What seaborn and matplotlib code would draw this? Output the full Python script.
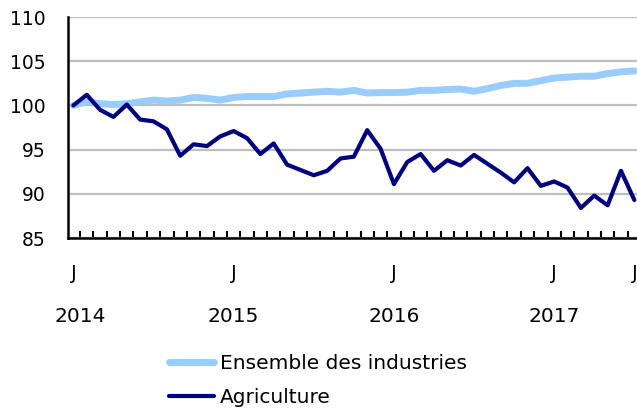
import numpy as np
import pandas as pd
import seaborn as sns
import matplotlib
matplotlib.use("Agg")
import matplotlib.pyplot as plt
from matplotlib.lines import Line2D

# Données mensuelles, janvier 2014 - juillet 2017 (base 100 = janvier 2014)
mois = pd.date_range("2014-01-01", "2017-07-01", freq="MS")
ensemble = [100.0, 100.4, 100.2, 100.1, 100.2, 100.4, 100.6, 100.5, 100.6, 100.9,
            100.8, 100.6, 100.9, 101.0, 101.0, 101.0, 101.3, 101.4, 101.5, 101.6,
            101.5, 101.7, 101.4, 101.45, 101.45, 101.5, 101.7, 101.7, 101.8, 101.85,
            101.6, 101.9, 102.25, 102.5, 102.5, 102.8, 103.1, 103.2, 103.3, 103.3,
            103.6, 103.8, 103.9]
agriculture = [100.0, 101.2, 99.5, 98.7, 100.1, 98.4, 98.2, 97.3, 94.3, 95.6,
               95.4, 96.5, 97.1, 96.3, 94.5, 95.7, 93.3, 92.7, 92.1, 92.6,
               94.0, 94.2, 97.2, 95.1, 91.1, 93.6, 94.5, 92.6, 93.8, 93.2,
               94.4, 93.4, 92.4, 91.3, 92.9, 90.9, 91.4, 90.7, 88.4, 89.8,
               88.7, 92.6, 89.3]
annees = ["2014", "2015", "2016", "2017"]

df = pd.DataFrame({"i": np.arange(len(mois)),
                   "Ensemble des industries": ensemble,
                   "Agriculture": agriculture})
long = df.melt(id_vars="i", var_name="serie", value_name="valeur")

sns.set_style("white")
plt.rcParams["font.family"] = ["DejaVu Sans"]
plt.rcParams["text.color"] = "black"
plt.rcParams["xtick.color"] = "black"
plt.rcParams["ytick.color"] = "black"

fig = plt.figure(figsize=(6.37, 4.12), dpi=100)
ax = fig.add_axes([0.1068, 0.4223, 0.8932, 0.5364])

couleurs = {"Ensemble des industries": "#99CCFF", "Agriculture": "#000080"}
sns.lineplot(data=long, x="i", y="valeur", hue="serie", palette=couleurs,
             ax=ax, legend=False)
ax.lines[0].set_linewidth(5)
ax.lines[1].set_linewidth(3)

ax.set_ylim(85, 110)
ax.set_xlim(-0.4, 42.2)
ax.set_yticks([85, 90, 95, 100, 105, 110])
ax.yaxis.grid(True, color="#BEBEBE", linewidth=1.6)
ax.set_axisbelow(True)
for s in ["top", "right"]:
    ax.spines[s].set_visible(False)
for s in ["left", "bottom"]:
    ax.spines[s].set_color("black")
    ax.spines[s].set_linewidth(1.8)

# étiquettes "J" pour janvier et juillet 2017
ax.set_xticks([0, 12, 24, 36, 42])
ax.set_xticklabels(["J"] * 5)
ax.set_xticks(np.arange(0.5, 42, 1), minor=True)
ax.tick_params(axis="x", which="major", length=0, pad=19, labelsize=14)
ax.tick_params(axis="x", which="minor", bottom=True, direction="in",
               length=5, width=1.5, color="black")
ax.tick_params(axis="y", length=0, labelsize=13.5, pad=16)
ax.set_xlabel("")
ax.set_ylabel("")

for k, a in enumerate(annees):
    ax.text(k * 12 + (0.5 if k == 0 else 0), -0.355, a, transform=ax.get_xaxis_transform(),
            ha="center", va="center", fontsize=14.5)

# légende
poignees = [Line2D([], [], color=couleurs["Ensemble des industries"], lw=5,
                   solid_capstyle="round"),
            Line2D([], [], color=couleurs["Agriculture"], lw=3,
                   solid_capstyle="round")]
fig.legend(poignees, ["Ensemble des industries", "Agriculture"],
           loc="upper left", bbox_to_anchor=(0.253, 0.160),
           bbox_transform=fig.transFigure, frameon=False, fontsize=14.5,
           handlelength=2.2, handletextpad=0.3, labelspacing=0.75,
           borderaxespad=0)

fig.savefig("out.png", dpi=100)
